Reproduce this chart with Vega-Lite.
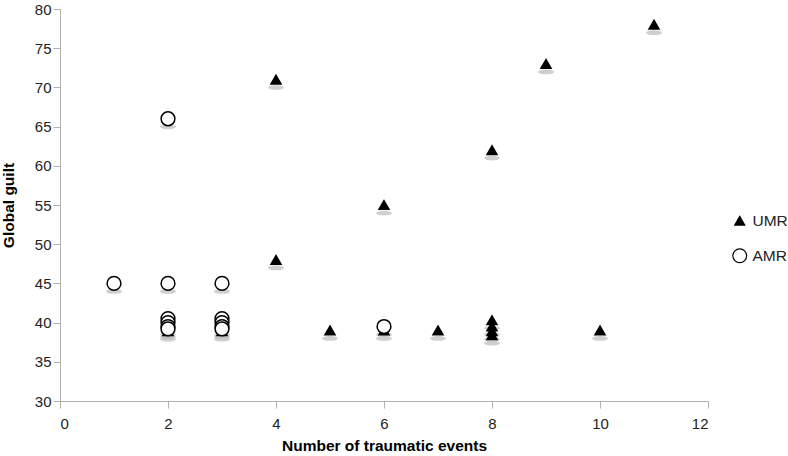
{
  "$schema": "https://vega.github.io/schema/vega-lite/v6.json",
  "autosize": "none",
  "width": 648,
  "height": 392,
  "padding": {"left": 60, "top": 9, "right": 80, "bottom": 55},
  "config": {
    "view": {"stroke": null},
    "font": "Liberation Sans",
    "axis": {
      "grid": false,
      "domainColor": "#b0b0b0",
      "tickColor": "#b0b0b0",
      "tickSize": 7,
      "labelFontSize": 15,
      "labelColor": "#222",
      "titleFontSize": 15.5,
      "titleFontWeight": "bold",
      "titleColor": "#000"
    }
  },
  "data": {
    "values": [
      {"events": 11, "guilt": 78, "group": "UMR"},
      {"events": 9, "guilt": 73, "group": "UMR"},
      {"events": 4, "guilt": 71, "group": "UMR"},
      {"events": 8, "guilt": 62, "group": "UMR"},
      {"events": 6, "guilt": 55, "group": "UMR"},
      {"events": 4, "guilt": 48, "group": "UMR"},
      {"events": 5, "guilt": 39, "group": "UMR"},
      {"events": 6, "guilt": 39, "group": "UMR"},
      {"events": 7, "guilt": 39, "group": "UMR"},
      {"events": 10, "guilt": 39, "group": "UMR"},
      {"events": 8, "guilt": 40.3, "group": "UMR"},
      {"events": 8, "guilt": 39.5, "group": "UMR"},
      {"events": 8, "guilt": 38.9, "group": "UMR"},
      {"events": 8, "guilt": 38.4, "group": "UMR"},
      {"events": 2, "guilt": 38.9, "group": "UMR"},
      {"events": 3, "guilt": 38.9, "group": "UMR"},
      {"events": 1, "guilt": 45, "group": "AMR"},
      {"events": 2, "guilt": 66, "group": "AMR"},
      {"events": 2, "guilt": 45, "group": "AMR"},
      {"events": 3, "guilt": 45, "group": "AMR"},
      {"events": 2, "guilt": 40.5, "group": "AMR"},
      {"events": 2, "guilt": 40, "group": "AMR"},
      {"events": 2, "guilt": 39.5, "group": "AMR"},
      {"events": 2, "guilt": 39.2, "group": "AMR"},
      {"events": 3, "guilt": 40.5, "group": "AMR"},
      {"events": 3, "guilt": 40, "group": "AMR"},
      {"events": 3, "guilt": 39.5, "group": "AMR"},
      {"events": 3, "guilt": 39.2, "group": "AMR"},
      {"events": 6, "guilt": 39.5, "group": "AMR"}
    ]
  },
  "encoding": {
    "x": {
      "field": "events", "type": "quantitative",
      "scale": {"domain": [0, 12], "nice": false},
      "axis": {"values": [0, 2, 4, 6, 8, 10, 12], "title": "Number of traumatic events", "titlePadding": 7, "labelPadding": 8}
    },
    "y": {
      "field": "guilt", "type": "quantitative",
      "scale": {"domain": [30, 80], "nice": false, "zero": false},
      "axis": {"values": [30, 35, 40, 45, 50, 55, 60, 65, 70, 75, 80], "title": "Global guilt", "titlePadding": 18, "labelPadding": 2}
    }
  },
  "layer": [
    {
      "mark": {"type": "point", "shape": "M-1,0A1,0.3,0,1,0,1,0A1,0.3,0,1,0,-1,0Z", "filled": true, "color": "#bbbbbb", "opacity": 0.7, "size": 250, "yOffset": 8},
      "encoding": {}
    },
    {
      "mark": {"type": "point", "filled": true, "stroke": "black", "strokeWidth": 1.5, "opacity": 1},
      "encoding": {
        "shape": {
          "field": "group", "type": "nominal",
          "scale": {"domain": ["UMR", "AMR"], "range": ["triangle-up", "circle"]},
          "legend": {
            "title": null, "orient": "none", "legendX": 672, "legendY": 204,
            "labelFontSize": 15.5, "labelColor": "#222", "rowPadding": 16, "symbolStrokeWidth": 1.2, "labelOffset": 5
          }
        },
        "fill": {
          "field": "group", "type": "nominal",
          "scale": {"domain": ["UMR", "AMR"], "range": ["black", "white"]}
        },
        "size": {
          "field": "group", "type": "nominal",
          "scale": {"domain": ["UMR", "AMR"], "range": [100, 190]}
        }
      }
    }
  ]
}
